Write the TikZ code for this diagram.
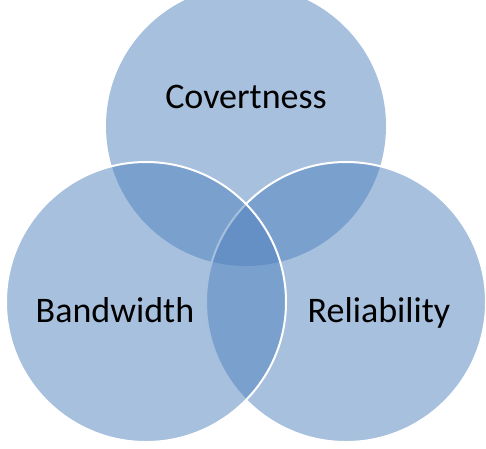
\documentclass[tikz,border=0pt]{standalone}
\usepackage{fontspec}
\setmainfont{Carlito}
\usetikzlibrary{positioning}
\definecolor{accentblue}{RGB}{79,129,189}
\tikzset{
  venn/.style={fill=accentblue,fill opacity=0.5},
  rim/.style={draw=white,line width=2pt},
  lab/.style={font=\fontsize{36}{43}\selectfont,anchor=base,text=black}
}
\begin{document}
\begin{tikzpicture}[x=1pt,y=-1pt]
		\useasboundingbox (0,0) rectangle (486,448);
		\clip (0,0) rectangle (486,448);
		\coordinate (ct) at (246,126);
		\coordinate (cl) at (146,302);
		\coordinate (cr) at (346,302);
		
		\fill[venn] (ct) circle (140pt);
		\fill[venn] (cr) circle (140pt);
		\draw[rim] (cr) circle (140pt);
		\fill[venn] (cl) circle (140pt);
		\draw[rim] (cl) circle (140pt);
		
		\node[lab] (covert) at (246,108) {Covertness};
		\node[lab] (band) at (115,322) {Bandwidth};
		\node[lab] (reli) at (379,322) {Reliability};
	\end{tikzpicture}
\end{document}
